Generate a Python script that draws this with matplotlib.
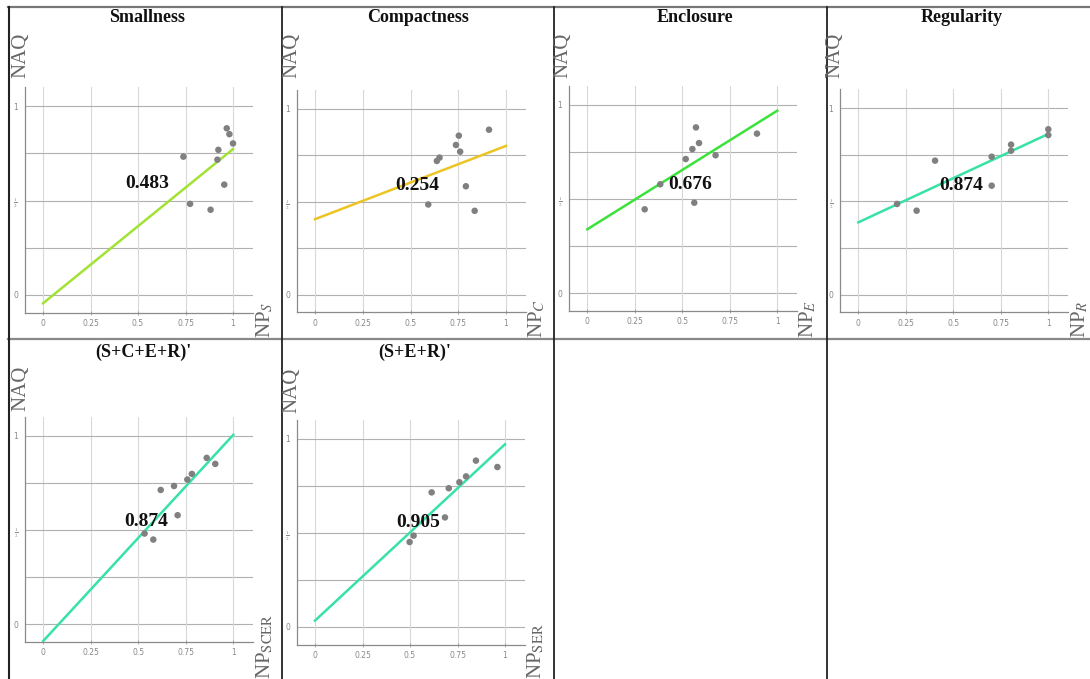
import matplotlib
matplotlib.use("Agg")
import matplotlib.pyplot as plt
from matplotlib.lines import Line2D

plt.rcParams['font.family'] = ['Liberation Serif', 'DejaVu Serif']
plt.rcParams['mathtext.fontset'] = 'stix'

W, H = 1090, 679

# ---------------- data ----------------
titles = ["Smallness", "Compactness", "Enclosure", "Regularity", "(S+C+E+R)'", "(S+E+R)'"]
xlabels = [r"NP$_{\mathit{S}}$", r"NP$_{\mathit{C}}$", r"NP$_{\mathit{E}}$", r"NP$_{\mathit{R}}$",
           r"NP$_{\mathrm{SCER}}$", r"NP$_{\mathrm{SER}}$"]
r_values = ["0.483", "0.254", "0.676", "0.874", "0.874", "0.905"]

x_smallness = [0.739, 0.774, 0.882, 0.923, 0.918, 0.954, 0.967, 0.981, 1.000]
y_smallness = [0.732, 0.482, 0.451, 0.768, 0.716, 0.584, 0.882, 0.851, 0.802]

x_compactness = [0.593, 0.638, 0.652, 0.738, 0.753, 0.760, 0.790, 0.836, 0.911]
y_compactness = [0.485, 0.719, 0.737, 0.805, 0.855, 0.769, 0.583, 0.451, 0.887]

x_enclosure = [0.302, 0.384, 0.518, 0.553, 0.563, 0.572, 0.588, 0.675, 0.893]
y_enclosure = [0.446, 0.579, 0.713, 0.766, 0.481, 0.881, 0.798, 0.733, 0.848]

x_regularity = [0.204, 0.307, 0.404, 0.702, 0.702, 0.804, 0.804, 1.000, 1.000]
y_regularity = [0.486, 0.450, 0.718, 0.739, 0.584, 0.804, 0.771, 0.886, 0.855]

x_scer = [0.533, 0.579, 0.618, 0.688, 0.707, 0.758, 0.782, 0.860, 0.905]
y_scer = [0.481, 0.449, 0.712, 0.733, 0.578, 0.767, 0.797, 0.882, 0.850]

x_ser = [0.498, 0.519, 0.614, 0.704, 0.684, 0.760, 0.795, 0.847, 0.960]
y_ser = [0.452, 0.486, 0.716, 0.738, 0.583, 0.770, 0.801, 0.885, 0.851]

# fitted line end points (value at x=0 and x=1)
fit_smallness = [-0.044, 0.772]
fit_compactness = [0.406, 0.800]
fit_enclosure = [0.340, 0.970]
fit_regularity = [0.3875, 0.861]
fit_scer = [-0.088, 1.004]
fit_ser = [0.034, 0.972]

label_pos = [(0.546, 0.588), (0.537, 0.589), (0.540, 0.579), (0.544, 0.5875), (0.544, 0.544), (0.544, 0.557)]

xs = [x_smallness, x_compactness, x_enclosure, x_regularity, x_scer, x_ser]
ys = [y_smallness, y_compactness, y_enclosure, y_regularity, y_scer, y_ser]
fits = [fit_smallness, fit_compactness, fit_enclosure, fit_regularity, fit_scer, fit_ser]
line_colors = ['#a2e233', '#ecc423', '#3ae23a', '#36e2a4', '#36e2a8', '#36e2a8']

x_ticks = [0, 0.25, 0.5, 0.75, 1]
x_ticklabels = ["0", "0.25", "0.5", "0.75", "1"]
y_ticks = [0, 0.5, 1]
y_ticklabels = ["0", r"$\frac{1}{2}$", "1"]

# ---------------- layout (pixels) ----------------
# (x pixel of data x=0, y pixel of data y=0, px per unit x, px per unit y)
geom = [(43, 295, 190, 189), (315, 294.7, 191, 186), (587.3, 293.3, 190, 188.3),
        (858.3, 294.7, 190, 186.7), (43.3, 624.3, 190, 188.7), (315, 627, 190, 188)]
title_pos = [(147, 18), (418, 18), (695, 18), (962, 18), (143, 352), (415, 352)]
naq_pos = [(21, 55), (292, 55), (563, 55), (835, 55), (21, 388), (292, 390)]
np_pos = [(265, 338), (537, 338), (808, 338), (1080, 338), (265, 679), (536, 679)]

XL = (-0.095, 1.105)
YL = (-0.095, 1.10)

fig = plt.figure(figsize=(W / 100, H / 100), dpi=100)
fig.patch.set_facecolor('white')

def fx(px):
    return px / W

def fy(py):
    return 1 - py / H

for i in range(6):
    x0, y0, sx, sy = geom[i]
    left = x0 + XL[0] * sx
    bottom = y0 - YL[0] * sy
    w = (XL[1] - XL[0]) * sx
    h = (YL[1] - YL[0]) * sy
    ax = fig.add_axes([fx(left), fy(bottom), w / W, h / H])
    ax.set_xlim(*XL)
    ax.set_ylim(*YL)
    for s in ['top', 'right']:
        ax.spines[s].set_visible(False)
    for s in ['left', 'bottom']:
        ax.spines[s].set_color('#8a8a8a')
        ax.spines[s].set_linewidth(0.9)
    for v in [0, 0.25, 0.5, 0.75, 1]:
        ax.axhline(v, color='#b0b0b0', lw=0.8, zorder=0)
        ax.axvline(v, color='#d8d8d8', lw=0.8, zorder=0)
    ax.set_xticks(x_ticks)
    ax.set_xticklabels(x_ticklabels)
    ax.set_yticks(y_ticks)
    ax.set_yticklabels(y_ticklabels)
    ax.tick_params(axis='both', colors='#999999', labelsize=5.5, length=3, width=0.6,
                   direction='inout', labelcolor='#888888', pad=3)
    ax.tick_params(axis='y', length=0, pad=5)
    for t in ax.get_xticklabels() + ax.get_yticklabels():
        t.set_family('DejaVu Sans')
    ax.plot([0, 1], fits[i], color=line_colors[i], lw=1.8, zorder=2)
    ax.scatter(xs[i], ys[i], s=22, color='#808080', edgecolors='none', zorder=3)
    ax.text(label_pos[i][0], label_pos[i][1], r_values[i], ha='center', va='center',
            fontsize=14, fontweight='bold', color='#111111', zorder=4)

    fig.text(fx(title_pos[i][0]), fy(title_pos[i][1]), titles[i], ha='center', va='center',
             fontsize=13, fontweight='bold', color='#111111')
    fig.text(fx(naq_pos[i][0]), fy(naq_pos[i][1]), "NAQ", ha='center', va='center',
             rotation=90, fontsize=15, color='#666666')
    fig.text(fx(np_pos[i][0]), fy(np_pos[i][1]), xlabels[i], ha='center', va='bottom',
             rotation=90, fontsize=15, color='#666666')

# ---------------- table grid ----------------
def hline(y, x1, x2, color, lw):
    fig.add_artist(Line2D([fx(x1), fx(x2)], [fy(y), fy(y)], color=color, lw=lw,
                          transform=fig.transFigure))

def vline(x, y1, y2, color, lw):
    fig.add_artist(Line2D([fx(x), fx(x)], [fy(y1), fy(y2)], color=color, lw=lw,
                          transform=fig.transFigure))

hline(7, 8, 1090, '#777777', 1.6)
hline(339, 8, 1090, '#888888', 1.6)
vline(8.5, 7, 679, '#222222', 1.5)
vline(282, 7, 679, '#222222', 1.3)
vline(553.5, 7, 679, '#222222', 1.3)
vline(827, 7, 679, '#222222', 1.3)

fig.savefig('out.png', dpi=100, facecolor='white')
